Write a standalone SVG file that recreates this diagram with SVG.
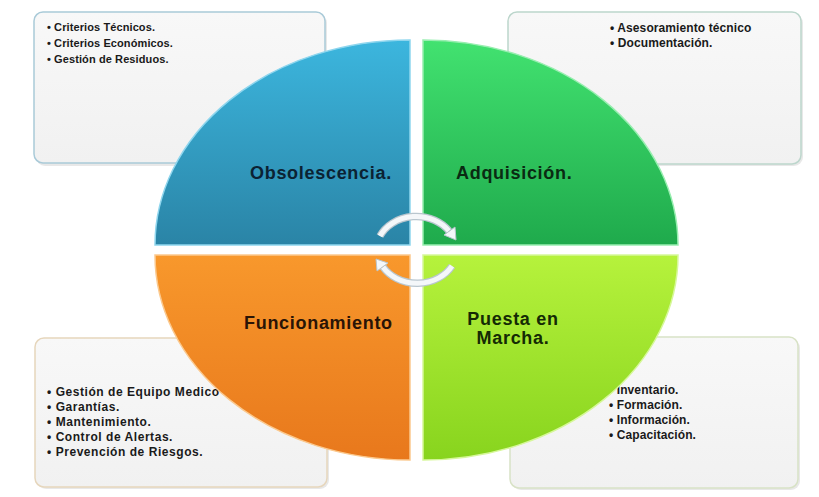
<svg xmlns="http://www.w3.org/2000/svg" width="819" height="497" viewBox="0 0 819 497">
<defs>
<linearGradient id="gBlue" x1="0" y1="0" x2="0" y2="1"><stop offset="0" stop-color="#3cb6de"/><stop offset="1" stop-color="#2a84a6"/></linearGradient>
<linearGradient id="gGreen" x1="0" y1="0" x2="0" y2="1"><stop offset="0" stop-color="#42e270"/><stop offset="1" stop-color="#1faa4c"/></linearGradient>
<linearGradient id="gOrange" x1="0" y1="0" x2="0" y2="1"><stop offset="0" stop-color="#f8982c"/><stop offset="1" stop-color="#e8781c"/></linearGradient>
<linearGradient id="gLime" x1="0" y1="0" x2="0" y2="1"><stop offset="0" stop-color="#b6f23c"/><stop offset="1" stop-color="#88d41e"/></linearGradient>
<linearGradient id="gBox" x1="0" y1="0" x2="0" y2="1"><stop offset="0" stop-color="#f8f8f8"/><stop offset="1" stop-color="#f1f1f1"/></linearGradient>
</defs>
<style>
.box{fill:url(#gBox);stroke-width:1.5}
.shadow{fill:#d8d8d8;opacity:0.6}
.item{font-family:"Liberation Sans",Arial,sans-serif;font-weight:bold;font-size:12px;letter-spacing:0.1px;fill:#1a1a1a}
.item.small{font-size:11px}
.item.wide{letter-spacing:0.55px}
.label{font-family:"Liberation Sans",Arial,sans-serif;font-weight:bold;font-size:18px;letter-spacing:0.7px}
.arcOut{fill:none;stroke:#b9c6ce;stroke-width:7.5}
.arcIn{fill:none;stroke:#f4f7f9;stroke-width:5}
.head{fill:#f4f7f9;stroke:#b9c6ce;stroke-width:1}
</style>
<rect width="819" height="497" fill="#ffffff"/>

<g id="box-tl">
<rect class="shadow" x="36" y="14" width="291" height="152" rx="9"/>
<rect class="box" x="34" y="12" width="291" height="151" rx="9" stroke="#a9cad8"/>
<text class="item small" x="47" y="31">• Criterios Técnicos.</text>
<text class="item small" x="47" y="47">• Criterios Económicos.</text>
<text class="item small" x="47" y="63">• Gestión de Residuos.</text>
</g>
<g id="box-tr">
<rect class="shadow" x="510" y="14" width="293" height="152" rx="9"/>
<rect class="box" x="508" y="12" width="293" height="152" rx="9" stroke="#bcd6cc"/>
<text class="item" x="610" y="32">• Asesoramiento técnico</text>
<text class="item" x="610" y="47">• Documentación.</text>
</g>
<g id="box-bl">
<rect class="shadow" x="37" y="340" width="292" height="149" rx="9"/>
<rect class="box" x="35" y="338" width="292" height="149" rx="9" stroke="#e6d6bc"/>
<text class="item wide" x="47" y="396">• Gestión de Equipo Medico</text>
<text class="item wide" x="47" y="411">• Garantías.</text>
<text class="item wide" x="47" y="426">• Mantenimiento.</text>
<text class="item wide" x="47" y="441">• Control de Alertas.</text>
<text class="item wide" x="47" y="456">• Prevención de Riesgos.</text>
</g>
<g id="box-br">
<rect class="shadow" x="512" y="339" width="288" height="151" rx="9"/>
<rect class="box" x="510" y="337" width="288" height="151" rx="9" stroke="#d8e2c6"/>
<text class="item" x="609" y="394">• Inventario.</text>
<text class="item" x="609" y="409">• Formación.</text>
<text class="item" x="609" y="424">• Información.</text>
<text class="item" x="609" y="439">• Capacitación.</text>
</g>

<g id="obsolescencia">
<path d="M 410 245 L 155 245 A 255 205 0 0 1 410 40 Z" fill="url(#gBlue)" stroke="#8fd6ee" stroke-width="1.5"/>
<text class="label" x="250" y="179" fill="#0b2233">Obsolescencia.</text>
</g>
<g id="adquisicion">
<path d="M 423 245 L 423 40 A 255 205 0 0 1 678 245 Z" fill="url(#gGreen)" stroke="#98eeb0" stroke-width="1.5"/>
<text class="label" x="456" y="179" fill="#0a2a12">Adquisición.</text>
</g>
<g id="funcionamiento">
<path d="M 410 255 L 410 460 A 255 205 0 0 1 155 255 Z" fill="url(#gOrange)" stroke="#fbc98e" stroke-width="1.5"/>
<text class="label" x="244" y="329" fill="#2a1406" letter-spacing="1.1">Funcionamiento</text>
</g>
<g id="puesta-en-marcha">
<path d="M 423 255 L 678 255 A 255 205 0 0 1 423 460 Z" fill="url(#gLime)" stroke="#d6f79a" stroke-width="1.5"/>
<text class="label" x="513" y="325" fill="#142a04" text-anchor="middle">Puesta en</text>
<text class="label" x="513" y="344" fill="#142a04" text-anchor="middle">Marcha.</text>
</g>

<g id="connectors">
<path class="arcOut" d="M 380 236 A 40 34 0 0 1 449 231"/>
<path class="arcIn" d="M 380 236 A 40 34 0 0 1 449 231"/>
<polygon class="head" points="455,227 444,235 456,240"/>
<path class="arcOut" d="M 452 266 A 40 34 0 0 1 383 267"/>
<path class="arcIn" d="M 452 266 A 40 34 0 0 1 383 267"/>
<polygon class="head" points="376,259 388,263 377,271"/>
</g>
</svg>
